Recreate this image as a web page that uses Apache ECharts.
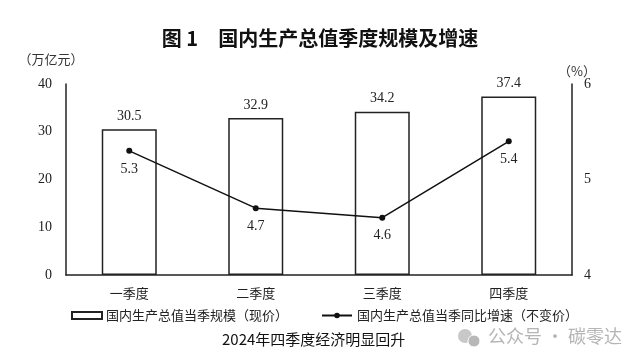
<!DOCTYPE html>
<html><head><meta charset="utf-8">
<script src="https://cdn.jsdelivr.net/npm/echarts@6/dist/echarts.min.js"></script>
<style>html,body{margin:0;padding:0;background:#fff;}#c{width:640px;height:364px;}</style>
</head><body><div id="c"></div>
<script>
const categories = ['一季度','二季度','三季度','四季度'];
const gdpScale = [30.5, 32.9, 34.2, 37.4];
const gdpGrowth = [5.3, 4.7, 4.6, 5.4];
const leftTicks = [0, 10, 20, 30, 40];
const rightTicks = [4, 5, 6];
const barName = '国内生产总值当季规模（现价）';
const lineName = '国内生产总值当季同比增速（不变价）';

const serif = '"Liberation Serif","Times New Roman",serif';
const cjk = '"Noto Sans CJK SC","Noto Sans",sans-serif';
const chart = echarts.init(document.getElementById('c'));
chart.setOption({
  backgroundColor: '#fff',
  animation: false,
  title: {
    text: '图 1　国内生产总值季度规模及增速',
    left: 'center', top: 23,
    textStyle: { fontFamily: cjk, fontSize: 20, fontWeight: 'bold', color: '#111' }
  },
  grid: { left: 66, right: 68, top: 84, bottom: 89 },
  legend: [{
    data: [{ name: barName, icon: 'rect' }],
    left: 66, top: 304, itemWidth: 30, itemHeight: 7, itemGap: 4,
    textStyle: { fontFamily: cjk, fontSize: 13, color: '#222', padding: [0, 0, 0, -1] }
  }, {
    data: [{ name: lineName }],
    left: 316, top: 304, itemWidth: 30, itemHeight: 7,
    textStyle: { fontFamily: cjk, fontSize: 13, color: '#222' }
  }],
  xAxis: {
    type: 'category', data: categories,
    axisLine: { lineStyle: { color: '#222', width: 1.5 } },
    axisTick: { show: false },
    axisLabel: { fontFamily: cjk, fontSize: 13, color: '#222', margin: 12 }
  },
  yAxis: [{
    type: 'value', min: leftTicks[0], max: leftTicks[leftTicks.length-1], interval: 10,
    name: '（万亿元）', nameLocation: 'end', nameGap: 18,
    nameTextStyle: { fontFamily: cjk, fontSize: 13, color: '#333', align: 'center', padding: [0, 0, 0, -30] },
    axisLine: { show: true, lineStyle: { color: '#222', width: 1.5 } },
    axisTick: { show: false }, splitLine: { show: false },
    axisLabel: { fontFamily: serif, fontSize: 14, color: '#222', margin: 14 }
  }, {
    type: 'value', min: rightTicks[0], max: rightTicks[rightTicks.length-1], interval: 1,
    name: '（%）', nameLocation: 'end', nameGap: 2,
    nameTextStyle: { fontFamily: cjk, fontSize: 13, color: '#333', padding: [0, 0, 0, 10] },
    axisLine: { show: true, lineStyle: { color: '#222', width: 1.5 } },
    axisTick: { show: false }, splitLine: { show: false },
    axisLabel: { fontFamily: serif, fontSize: 14, color: '#222', margin: 12 }
  }],
  series: [{
    name: barName, type: 'bar', data: gdpScale, barWidth: 55, yAxisIndex: 0,
    itemStyle: { color: '#fff', borderColor: '#222', borderWidth: 1.5 },
    label: { show: true, position: 'top', distance: 6, fontFamily: serif, fontSize: 14, color: '#222' }
  }, {
    name: lineName, type: 'line', data: gdpGrowth, yAxisIndex: 1,
    symbol: 'circle', symbolSize: 6,
    lineStyle: { color: '#111', width: 1.5 }, itemStyle: { color: '#111' },
    label: { show: true, position: 'bottom', distance: 8, fontFamily: serif, fontSize: 14, color: '#222' }
  }],
  graphic: [{
    type: 'text', left: 222, top: 332,
    style: { text: '2024年四季度经济明显回升', fontFamily: cjk, fontSize: 15, fill: '#111' }
  }, {
    type: 'circle', shape: { cx: 465, cy: 336, r: 7 }, style: { fill: '#c8c8c8' }
  }, {
    type: 'circle', shape: { cx: 474, cy: 341, r: 6 }, style: { fill: '#b8b8b8', stroke: '#fff', lineWidth: 1 }
  }, {
    type: 'text', left: 488, top: 327,
    style: { text: '公众号 · 碳零达', fontFamily: cjk, fontSize: 18, fill: '#b5b5b5' }
  }]
});
</script></body></html>
